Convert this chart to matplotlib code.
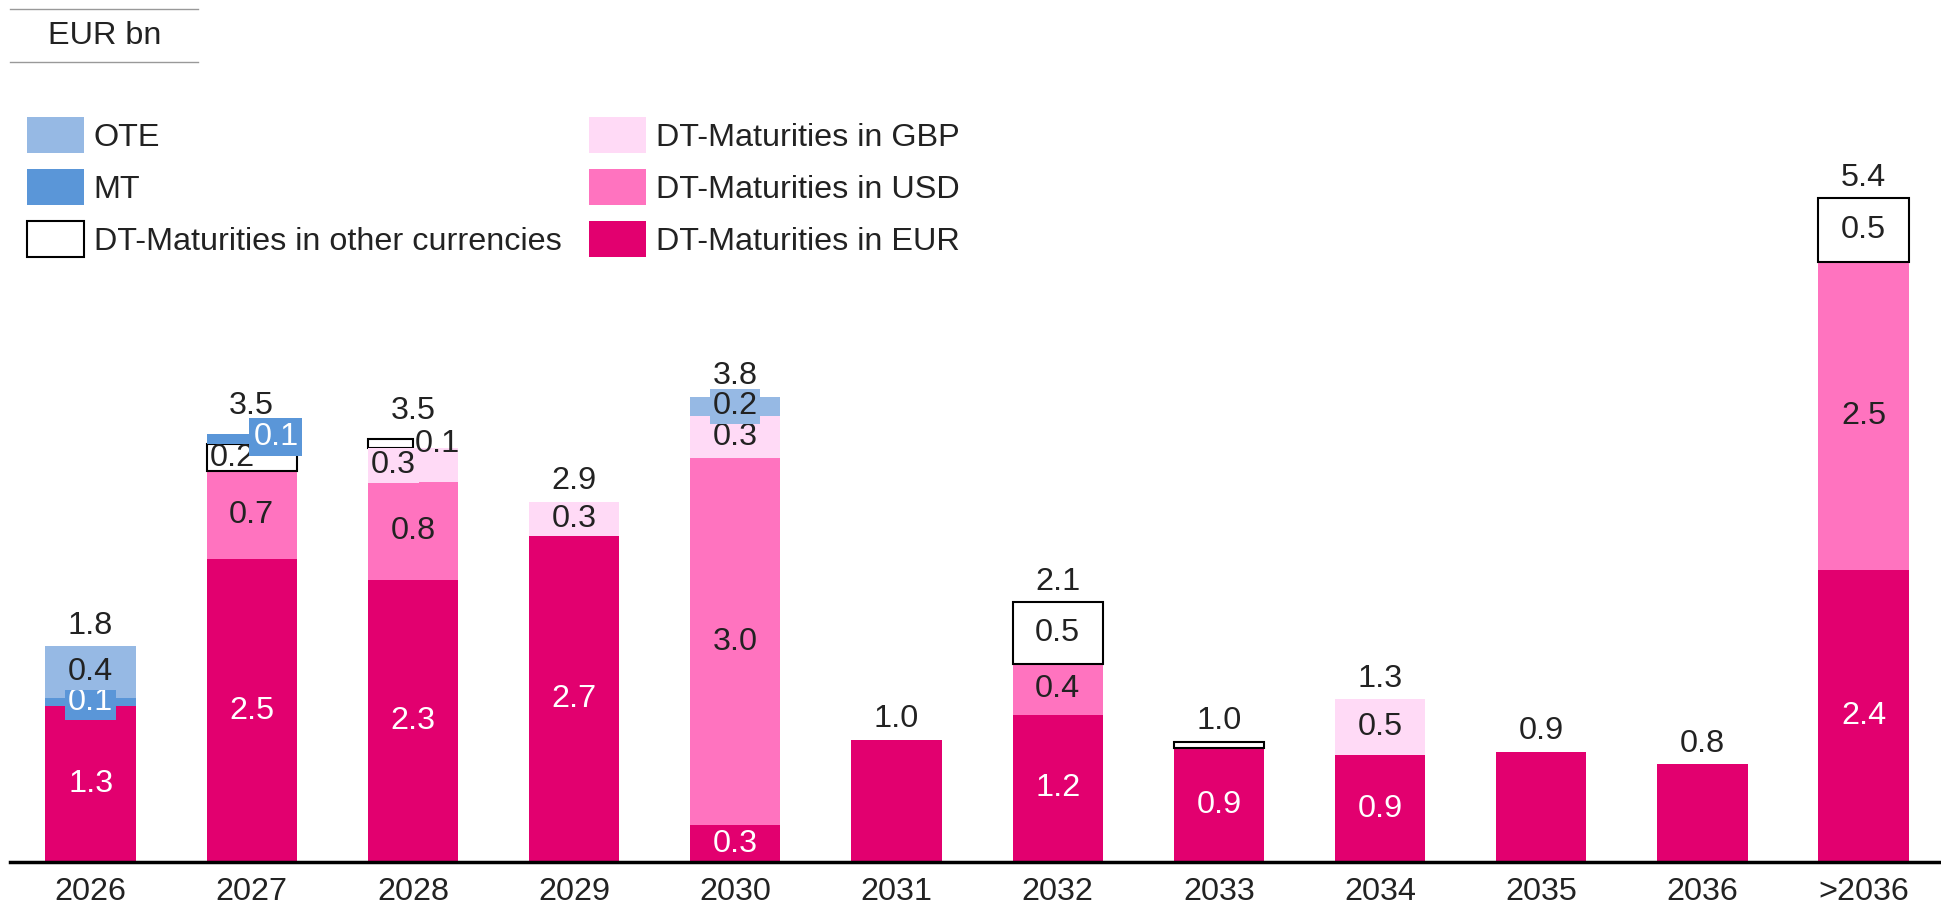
import numpy as np
import matplotlib
matplotlib.use('Agg')
from matplotlib import pyplot as plt
from matplotlib.lines import Line2D
from matplotlib.patches import Patch

plt.rcParams['font.family'] = ['Liberation Sans', 'DejaVu Sans']

years = ['2026', '2027', '2028', '2029', '2030', '2031', '2032', '2033', '2034', '2035', '2036', '>2036']
eur = [1.27, 2.47, 2.3, 2.66, 0.3, 1.0, 1.2, 0.93, 0.87, 0.9, 0.8, 2.38]
usd = [0, 0.72, 0.8, 0, 3.0, 0, 0.42, 0, 0, 0, 0, 2.52]
gbp = [0, 0, 0.28, 0.28, 0.34, 0, 0, 0, 0.46, 0, 0, 0]
other = [0, 0.22, 0.07, 0, 0, 0, 0.5, 0.05, 0, 0, 0, 0.52]
mt = [0.07, 0.08, 0, 0, 0, 0, 0, 0, 0, 0, 0, 0]
ote = [0.42, 0, 0, 0, 0.16, 0, 0, 0, 0, 0, 0, 0]
totals = ['1.8', '3.5', '3.5', '2.9', '3.8', '1.0', '2.1', '1.0', '1.3', '0.9', '0.8', '5.4']

C_EUR = '#E2006F'
C_USD = '#FF73BF'
C_GBP = '#FFDAF6'
C_MT = '#5A96D8'
C_OTE = '#96B9E4'
TXT = '#222222'
FS = 23.3

series = [
    ('DT-Maturities in EUR', eur, C_EUR, 'white'),
    ('DT-Maturities in USD', usd, C_USD, TXT),
    ('DT-Maturities in GBP', gbp, C_GBP, TXT),
    ('DT-Maturities in other currencies', other, 'white', TXT),
    ('MT', mt, C_MT, 'white'),
    ('OTE', ote, C_OTE, TXT),
]
boxed = ['MT', 'OTE']

# labels that sit off-centre
special = {
    ('MT', 1): 'box_right',
    ('DT-Maturities in other currencies', 1): 'left',
    ('DT-Maturities in other currencies', 2): 'outside',
    ('DT-Maturities in GBP', 2): 'left',
    ('DT-Maturities in other currencies', 7): 'skip',
}

fig = plt.figure(figsize=(19.41, 9.10), dpi=100)
ax = fig.add_axes([10/1941, 48/910, 1931/1941, 735/910])

x = np.arange(len(years))
w = 0.56
n_seg = np.sum([np.array(s[1]) > 0 for s in series], axis=0)
bottom = np.zeros(len(years))
for name, vals, col, tc in series:
    vals = np.array(vals, dtype=float)
    if name == 'DT-Maturities in other currencies':
        widths = np.full(len(years), w)
        widths[2] = w / 2
        ecs = ['black' if v > 0 else 'none' for v in vals]
        ax.bar(x - w/2, vals, widths, bottom=bottom, align='edge', color='white',
               edgecolor=ecs, linewidth=1.5)
    else:
        ax.bar(x, vals, w, bottom=bottom, color=col, linewidth=0)
    for i, v in enumerate(vals):
        if v <= 0 or n_seg[i] == 1:
            continue
        yc = bottom[i] + v/2
        lab = f'{v:.1f}'
        sp = special.get((name, i), 'center')
        box = dict(boxstyle='square,pad=0.08', fc=col, ec='none')
        if sp == 'skip':
            continue
        if sp == 'box_right':
            ax.text(x[i] + 0.15, yc + 0.02, lab, ha='center', va='center', fontsize=FS, color=tc,
                    bbox=dict(boxstyle='square,pad=0.12', fc=col, ec='none'))
        elif sp == 'left':
            ax.text(x[i] - w/2 + 0.02, yc, lab, ha='left', va='center', fontsize=FS, color=tc,
                    bbox=None if col == 'white' else box)
        elif sp == 'outside':
            ax.text(x[i] + 0.01, yc, lab, ha='left', va='center', fontsize=FS, color=tc)
        else:
            ax.text(x[i], yc, lab, ha='center', va='center', fontsize=FS, color=tc,
                    bbox=box if name in boxed else None)
    bottom += vals

for i, t in enumerate(totals):
    off = 15 if i in (1, 2) else 9
    ax.annotate(t, (x[i], bottom[i]), xytext=(0, off), textcoords='offset points',
                ha='center', va='baseline', fontsize=FS, color=TXT)

ax.set_xlim(-0.5, 11.48)
ax.set_ylim(0, 6.0)
ax.set_xticks(x)
ax.set_xticklabels(years, fontsize=FS, color=TXT)
ax.tick_params(axis='x', length=0, pad=11)
ax.set_yticks([])
for s in ['top', 'left', 'right']:
    ax.spines[s].set_visible(False)
ax.spines['bottom'].set_linewidth(2.5)
ax.spines['bottom'].set_color('black')

leg_items = [('OTE', C_OTE, 'none'), ('MT', C_MT, 'none'),
             ('DT-Maturities in other currencies', 'white', 'black'),
             ('DT-Maturities in GBP', C_GBP, 'none'),
             ('DT-Maturities in USD', C_USD, 'none'),
             ('DT-Maturities in EUR', C_EUR, 'none')]
handles = [Patch(facecolor=fc, edgecolor=ec, linewidth=1.5) for _, fc, ec in leg_items]
fig.legend(handles, [n for n, _, _ in leg_items], loc='upper left',
           bbox_to_anchor=(27/1941, 1 - 117/910), ncol=2, frameon=False,
           fontsize=FS, handlelength=1.76, handleheight=1.33, labelspacing=0.5,
           handletextpad=0.3, columnspacing=0.85, borderpad=0, borderaxespad=0,
           labelcolor=TXT)

fig.text(105/1941, 1 - 36/910, 'EUR bn', ha='center', va='center', fontsize=FS, color=TXT)
for yy in [9, 62]:
    fig.add_artist(Line2D([10/1941, 198/1941], [1 - yy/910]*2, color='#999999', lw=1))

fig.savefig('out.png', dpi=100)
